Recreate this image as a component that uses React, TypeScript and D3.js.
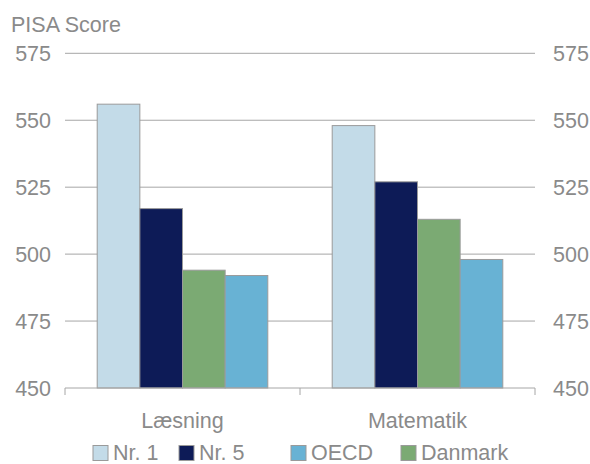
import React from "react";
import * as d3 from "d3";

const categories = ["Læsning", "Matematik"];
const seriesNames = ["Nr. 1", "Nr. 5", "Danmark", "OECD"];
const nr1 = [556, 548];
const nr5 = [517, 527];
const danmark = [494, 513];
const oecd = [492, 498];
const yTicks = [450, 475, 500, 525, 550, 575];
const legendOrder = ["Nr. 1", "Nr. 5", "OECD", "Danmark"];

const colors: Record<string, string> = {
  "Nr. 1": "#C3DBE8",
  "Nr. 5": "#0D1B57",
  "Danmark": "#7BAA73",
  "OECD": "#68B2D4",
};

const W = 590;
const H = 464;
const left = 65;
const right = 535;
const top = 53.3;
const bottom = 388;
const textColor = "#8a8a8a";
const font = "'Liberation Sans', Arial, sans-serif";
const fs = 21.5;

export default function App() {
  const values = [nr1, nr5, danmark, oecd];
  const x0 = d3.scaleBand().domain(categories).range([left, right]).paddingInner(0).paddingOuter(0);
  const inner = x0.bandwidth() * (170.6 / 235);
  const x1 = d3
    .scaleBand()
    .domain(seriesNames)
    .range([(x0.bandwidth() - inner) / 2, (x0.bandwidth() + inner) / 2]);
  const y = d3.scaleLinear().domain([450, 575]).range([bottom, top]);

  const legendX = [93, 179, 291, 401];

  return (
    <svg width={W} height={H} style={{ position: "absolute", left: 0, top: 0, fontFamily: font }}>
      <rect width={W} height={H} fill="#fff" />
      <text x={11} y={32} fontSize={fs} fill={textColor}>PISA Score</text>
      {yTicks.map((t) => (
        <g key={t}>
          {t !== 450 && (
            <line x1={left} x2={right} y1={y(t)} y2={y(t)} stroke="#a6a6a6" strokeWidth={1} />
          )}
          <text x={51} y={y(t) + 7.5} fontSize={fs} fill={textColor} textAnchor="end">{t}</text>
          <text x={553} y={y(t) + 7.5} fontSize={fs} fill={textColor} textAnchor="start">{t}</text>
        </g>
      ))}
      {categories.map((c, ci) =>
        seriesNames.map((s, si) => {
          const v = values[si][ci];
          const bx = (x0(c) ?? 0) + (x1(s) ?? 0);
          return (
            <rect
              key={c + s}
              x={bx}
              y={y(v)}
              width={x1.bandwidth()}
              height={bottom - y(v)}
              fill={colors[s]}
              stroke="#9a9a9a"
              strokeWidth={1}
            />
          );
        })
      )}
      <line x1={left} x2={right} y1={bottom} y2={bottom} stroke="#a6a6a6" strokeWidth={1} />
      {[...categories.map((c) => x0(c) ?? 0), right].map((tx, i) => (
        <line key={i} x1={tx} x2={tx} y1={bottom} y2={bottom + 7} stroke="#a6a6a6" strokeWidth={1} />
      ))}
      {categories.map((c) => (
        <text
          key={c}
          x={(x0(c) ?? 0) + x0.bandwidth() / 2}
          y={428}
          fontSize={fs}
          fill={textColor}
          textAnchor="middle"
        >
          {c}
        </text>
      ))}
      {legendOrder.map((s, i) => (
        <g key={s}>
          <rect x={legendX[i]} y={445.5} width={15} height={15} fill={colors[s]} stroke="#9a9a9a" strokeWidth={1} />
          <text x={legendX[i] + 20} y={459.5} fontSize={fs} fill={textColor}>{s}</text>
        </g>
      ))}
    </svg>
  );
}
